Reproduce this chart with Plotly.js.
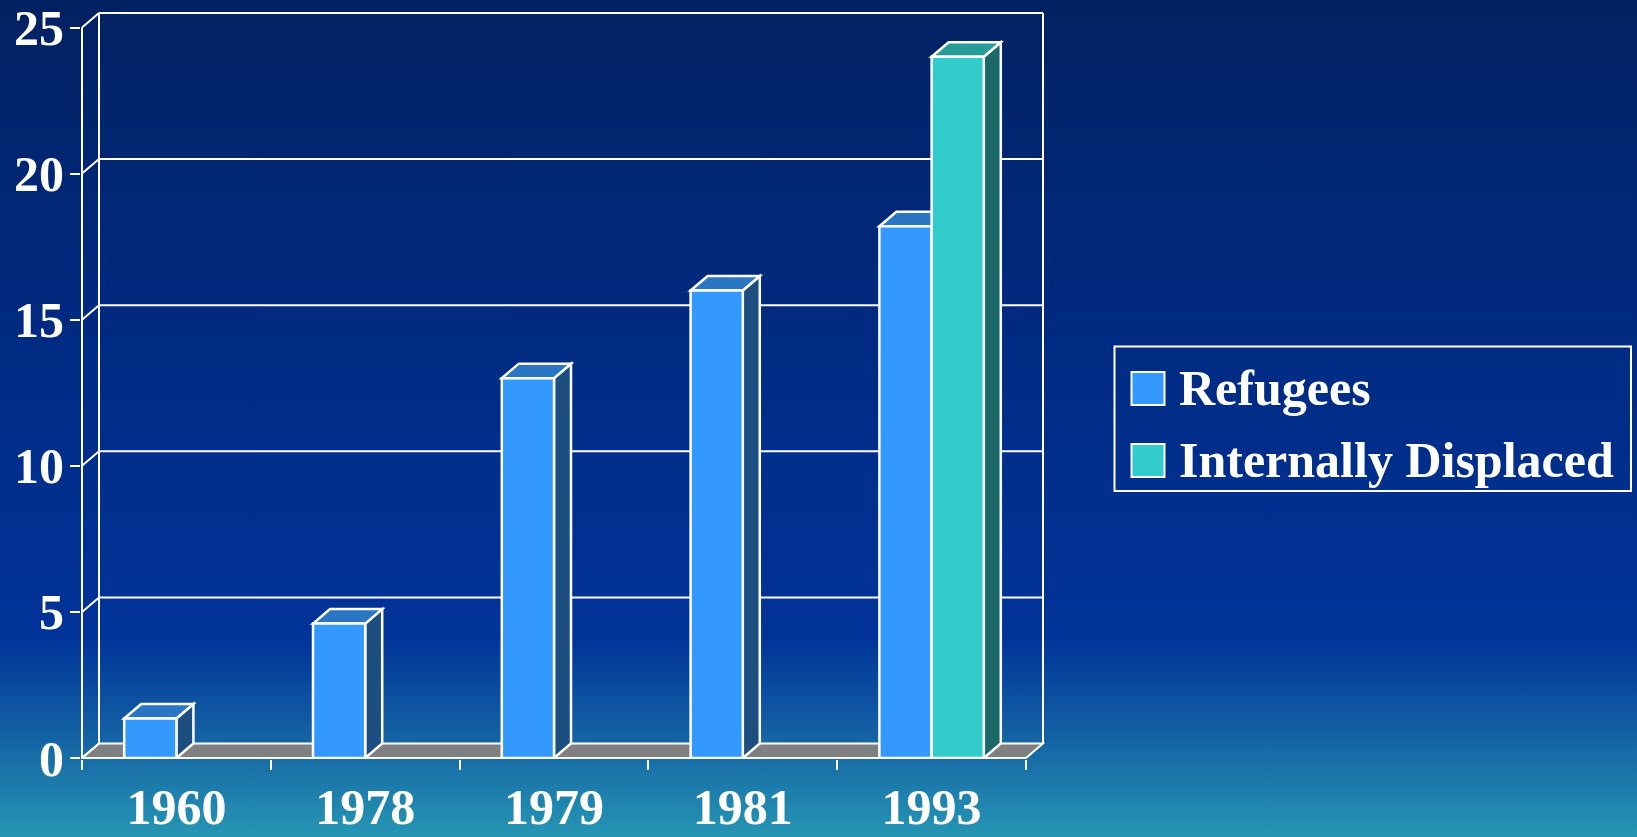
<!DOCTYPE html>
<html>
<head>
<meta charset="utf-8">
<script src="https://cdn.plot.ly/plotly-3.0.1.min.js"></script>
<style>
  html, body { margin: 0; padding: 0; }
  #chart {
    width: 1637px; height: 837px;
    background: linear-gradient(to bottom,
      rgb(2,33,98) 0%,
      rgb(0,42,128) 38%,
      rgb(0,51,153) 76%,
      rgb(20,98,164) 88%,
      rgb(38,150,180) 100%);
  }
</style>
</head>
<body>
<div id="chart"></div>
<script>
// ---- data ----
const categories = ['1960', '1978', '1979', '1981', '1993'];
const refugees = [1.35, 4.6, 13, 16, 18.2];
const displaced = [null, null, null, null, 24];
const seriesNames = ['Refugees', 'Internally Displaced'];
const yTickVals = [0, 5, 10, 15, 20, 25];

// ---- styles ----
const frontColors = ['#3399FF', '#33CCCC'];
const topColors = ['#2A76C2', '#279C99'];
const sideColors = ['#1C4F80', '#1A6868'];
const floorColor = '#808080';
const lineCol = '#FFFFFF';
const FONT = 'Liberation Serif, Times New Roman, serif';

// layout geometry
const W = 1637, H = 837;
const M = {l: 81, r: 592, t: 10, b: 78};
const plotW = W - M.l - M.r, plotH = H - M.t - M.b;
const pxPerCat = 188.8, pxPerUnit = 29.22;
const xr0 = -0.5 - 1 / pxPerCat;
const xRange = [xr0, xr0 + plotW / pxPerCat];
const yr0 = -1 / pxPerUnit;
const yRange = [yr0, yr0 + plotH / pxPerUnit];
const DX = 17 / pxPerCat;   // depth offset (categories)
const DY = 14.5 / pxPerUnit; // depth offset (value units)
const BARGAP = 0.447;
const bw = (1 - BARGAP) / 2;
const nCat = categories.length;
const xL = -0.5, xR = nCat - 0.5;
const yMax = yTickVals[yTickVals.length - 1];

const shapes = [];
function path(pts, fill, width) {
  let d = 'M' + pts.map(p => p[0] + ',' + p[1]).join(' L') + ' Z';
  shapes.push({type: 'path', xref: 'x', yref: 'y', path: d, layer: 'below',
    fillcolor: fill, line: {color: lineCol, width: width || 2}});
}
function seg(x0, y0, x1, y1) {
  shapes.push({type: 'line', xref: 'x', yref: 'y', x0, y0, x1, y1, layer: 'below',
    line: {color: lineCol, width: 2}});
}
// floor
path([[xL, 0], [xR, 0], [xR + DX, DY], [xL + DX, DY]], floorColor);
// back wall gridlines and edges
yTickVals.forEach(t => { if (t > 0) seg(xL + DX, t + DY, xR + DX, t + DY); });
seg(xL + DX, DY, xL + DX, yMax + DY);
seg(xR + DX, DY, xR + DX, yMax + DY);
// connectors from front ticks to back wall
yTickVals.forEach(t => seg(xL, t, xL + DX, t + DY));
// front y axis line
seg(xL, 0, xL, yMax);

// bar 3D faces (side + top)
[refugees, displaced].forEach((vals, s) => {
  vals.forEach((v, i) => {
    if (v === null || v === undefined) return;
    const L = i - bw + s * bw, R = L + bw;
    path([[R, 0], [R + DX, DY], [R + DX, v + DY], [R, v]], sideColors[s], 2.5);
    path([[L, v], [L + DX, v + DY], [R + DX, v + DY], [R, v]], topColors[s], 2.5);
  });
});

// custom legend (box, swatches, labels)
const px2x = px => (px - M.l) / plotW;
const px2y = py => (H - M.b - py) / plotH;
shapes.push({type: 'rect', xref: 'paper', yref: 'paper', layer: 'above',
  x0: px2x(1114.5), x1: px2x(1631), y0: px2y(346.5), y1: px2y(491),
  line: {color: lineCol, width: 2}, fillcolor: 'rgba(0,0,0,0)'});
const swY = [[372, 405], [444, 477]];
const annotations = [];
seriesNames.forEach((name, s) => {
  shapes.push({type: 'rect', xref: 'paper', yref: 'paper', layer: 'above',
    x0: px2x(1131.5), x1: px2x(1164.5), y0: px2y(swY[s][0]), y1: px2y(swY[s][1]),
    line: {color: lineCol, width: 2}, fillcolor: frontColors[s]});
  annotations.push({xref: 'paper', yref: 'paper', x: px2x(1177), y: px2y((swY[s][0] + swY[s][1]) / 2 - 1),
    xanchor: 'left', yanchor: 'middle', showarrow: false, text: name,
    font: {family: FONT, size: 50, color: '#FFFFFF', weight: 700}});
});

const traces = [refugees, displaced].map((vals, s) => ({
  type: 'bar', name: seriesNames[s], x: categories, y: vals,
  marker: {color: frontColors[s], line: {color: lineCol, width: 2.5}},
  showlegend: false, hoverinfo: 'x+y+name'
}));

const layout = {
  width: W, height: H,
  margin: M,
  paper_bgcolor: 'rgba(0,0,0,0)',
  plot_bgcolor: 'rgba(0,0,0,0)',
  barmode: 'group', bargap: BARGAP, bargroupgap: 0,
  showlegend: false,
  font: {family: FONT, size: 50, color: '#FFFFFF', weight: 700},
  xaxis: {
    type: 'category', range: xRange, categoryorder: 'array', categoryarray: categories,
    showgrid: false, zeroline: false, showline: false,
    ticks: 'outside', tickson: 'boundaries', ticklen: 10, tickwidth: 2, tickcolor: '#FFFFFF',
    tickfont: {family: FONT, size: 50, color: '#FFFFFF', weight: 700},
    ticklabelstandoff: 14
  },
  yaxis: {
    range: yRange, tickvals: yTickVals, ticktext: yTickVals.map(String),
    showgrid: false, zeroline: false, showline: false,
    ticks: 'outside', ticklen: 10, tickwidth: 2, tickcolor: '#FFFFFF',
    tickfont: {family: FONT, size: 50, color: '#FFFFFF', weight: 700},
    ticklabelstandoff: -4
  },
  shapes, annotations
};

Plotly.newPlot('chart', traces, layout, {displayModeBar: false, staticPlot: true});
</script>
</body>
</html>
